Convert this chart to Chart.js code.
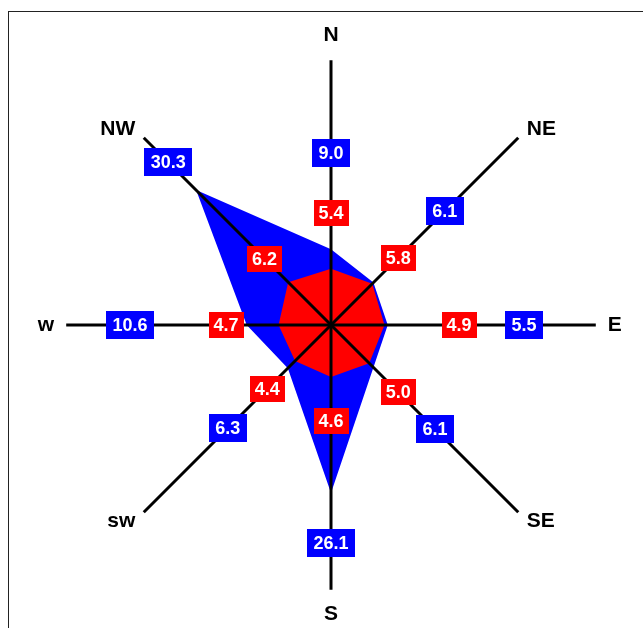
<!DOCTYPE html>
<html lang="en">
<head>
<meta charset="UTF-8" />
<title>Wind rose</title>
<script src="https://cdn.jsdelivr.net/npm/chart.js"></script>
<style>
  html, body { margin: 0; padding: 0; background: #fff; overflow: hidden; }
  .frame {
    position: absolute; left: 8px; top: 11px; width: 1000px; height: 1000px;
    border-left: 1px solid #222; border-top: 1px solid #222;
  }
  canvas { position: absolute; left: 0; top: 0; }
</style>
</head>
<body>
<div class="frame"></div>
<canvas id="rose" width="643" height="628"></canvas>
<script>
const directions = ["N", "NE", "E", "SE", "S", "sw", "w", "NW"];
const outerValues = [9.0, 6.1, 5.5, 6.1, 26.1, 6.3, 10.6, 30.3];
const innerValues = [5.4, 5.8, 4.9, 5.0, 4.6, 4.4, 4.7, 6.2];

// how far out along each axis the value boxes sit (px from centre)
const outerLabelDist = [172, 161, 193, 147, 218, 146, 201, 230];
const innerLabelDist = [112, 95, 128, 95, 96, 90, 105, 94];

const FONT = "'Liberation Sans', Arial, sans-serif";

// draws the coloured value boxes on top of the axes
const valueBoxes = {
  id: "valueBoxes",
  afterDraw(chart, args, opts) {
    const scale = chart.scales.r;
    const ctx = chart.ctx;
    ctx.save();
    ctx.font = "bold 18px " + FONT;
    ctx.textAlign = "center";
    ctx.textBaseline = "middle";
    chart.data.datasets.forEach((ds, d) => {
      const cfg = opts.boxes[d];
      ds.data.forEach((v, i) => {
        const p = scale.getPointPosition(i, cfg.dist[i]);
        const text = v.toFixed(1);
        const w = Math.round(ctx.measureText(text).width + cfg.padX * 2);
        const h = cfg.height;
        ctx.fillStyle = ds.backgroundColor;
        ctx.fillRect(Math.round(p.x - w / 2), Math.round(p.y - h / 2), w, h);
        ctx.fillStyle = "#fff";
        ctx.fillText(text, p.x, p.y + 1);
      });
    });
    ctx.restore();
  }
};

new Chart(document.getElementById("rose"), {
  type: "radar",
  data: {
    labels: directions,
    datasets: [
      {
        label: "inner",
        data: innerValues,
        backgroundColor: "#ff0000",
        borderWidth: 0,
        fill: "start",
        pointRadius: 0,
      },
      {
        label: "outer",
        data: outerValues,
        backgroundColor: "#0000ff",
        borderWidth: 0,
        fill: "start",
        pointRadius: 0,
      },
    ],
  },
  options: {
    responsive: false,
    animation: false,
    layout: { padding: { top: 24, bottom: 0, left: 17, right: 0 } },
    elements: { line: { tension: 0 } },
    plugins: {
      legend: { display: false },
      tooltip: { enabled: false },
      valueBoxes: {
        boxes: [
          { dist: innerLabelDist, padX: 5, height: 26 },
          { dist: outerLabelDist, padX: 6.5, height: 28 },
        ],
      },
    },
    scales: {
      r: {
        min: -5,
        max: 44,
        grid: { display: false, z: 1 },
        angleLines: { display: true, color: "#000", lineWidth: 3 },
        ticks: { display: false, z: 1 },
        pointLabels: {
          color: "#000",
          padding: 12,
          font: (ctx) => ({
            family: FONT,
            size: 21,
            weight: "bold",
            lineHeight: ctx.index % 2 ? "1px" : 1.2,
          }),
        },
      },
    },
  },
  plugins: [valueBoxes],
});
</script>
</body>
</html>
